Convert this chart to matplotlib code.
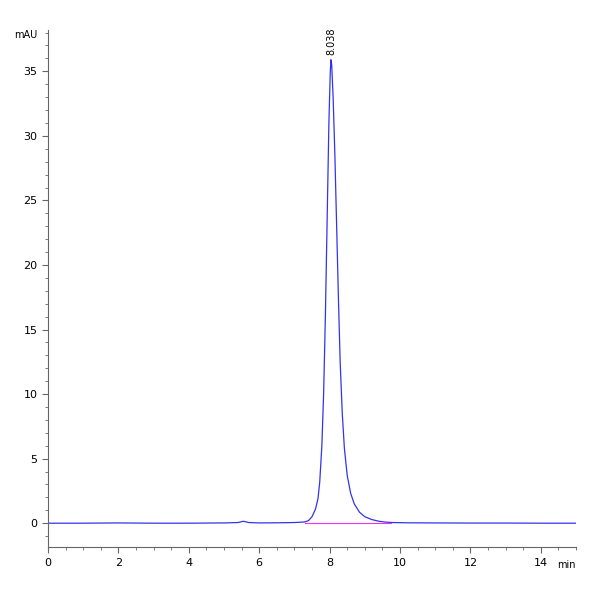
import matplotlib
matplotlib.use("Agg")
import matplotlib.pyplot as plt
from matplotlib.ticker import MultipleLocator

time = [0, 0.5, 1, 2, 3, 4, 5, 5.4, 5.55, 5.7, 6.0, 6.5, 7.0, 7.2, 7.3, 7.4, 7.5, 7.6, 7.67,
        7.72, 7.78, 7.83, 7.88, 7.93, 7.98, 8.02, 8.038, 8.06, 8.1, 8.15, 8.2, 8.25, 8.3, 8.36,
        8.42, 8.5, 8.6, 8.7, 8.85, 9.0, 9.2, 9.4, 9.6, 9.8, 10.2, 11, 12, 13, 14, 15]
signal = [0, 0, 0, 0.02, 0, 0, 0.02, 0.05, 0.15, 0.05, 0.02, 0.03, 0.05, 0.08, 0.1, 0.2, 0.5, 1.1, 1.9,
          3.2, 6.0, 10.0, 16.0, 23.5, 31.0, 35.0, 35.9, 35.5, 33.0, 28.5, 23.0, 17.5, 12.5, 8.5,
          5.8, 3.7, 2.3, 1.5, 0.85, 0.5, 0.28, 0.15, 0.08, 0.05, 0.03, 0.02, 0.01, 0.01, 0.0, 0.0]
base_x = [7.3, 9.75]
base_y = [0.0, 0.0]
peak_label = "8.038"

fig = plt.figure(figsize=(6, 6), dpi=100)
ax = fig.add_axes([0.08, 0.088, 0.88, 0.862])
ax.plot(time, signal, color="#3333ee", lw=0.9)
ax.plot(base_x, base_y, color="#ee33ee", lw=0.8)
ax.set_xlim(0, 15)
ax.set_ylim(-1.86, 38.2)
for s in ["top", "right"]:
    ax.spines[s].set_visible(False)
for s in ["left", "bottom"]:
    ax.spines[s].set_color("#666666")
ax.xaxis.set_major_locator(MultipleLocator(2))
ax.xaxis.set_minor_locator(MultipleLocator(0.5))
ax.yaxis.set_major_locator(MultipleLocator(5))
ax.yaxis.set_minor_locator(MultipleLocator(1))
ax.tick_params(which="both", direction="out", color="#666666", labelsize=8)
ax.tick_params(which="major", length=4)
ax.tick_params(which="minor", length=2)
ax.text(-0.02, 1.0, "mAU", transform=ax.transAxes, ha="right", va="top", fontsize=7)
ax.text(1.0, -0.025, "min", transform=ax.transAxes, ha="right", va="top", fontsize=7)
ax.text(8.038, 36.3, peak_label, rotation=90, ha="center", va="bottom", fontsize=7)
fig.savefig("out.png", dpi=100)
